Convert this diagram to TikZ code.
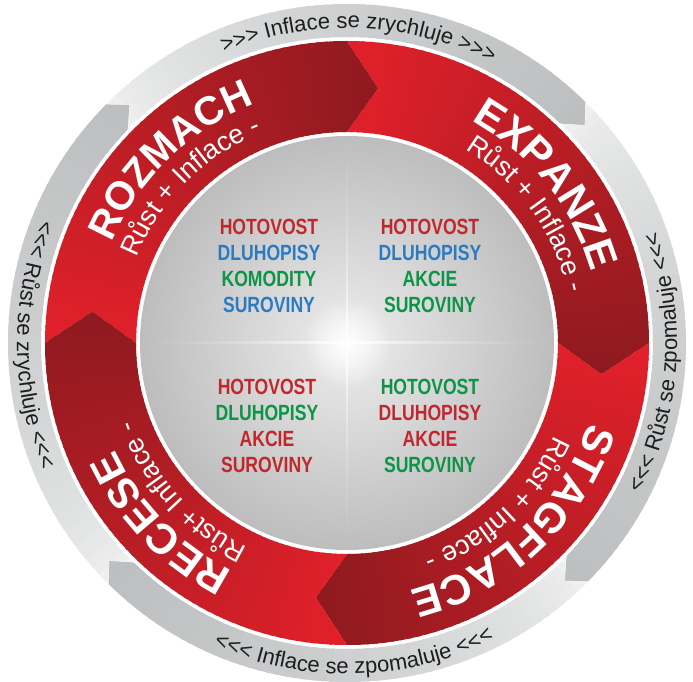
\documentclass[tikz,border=0pt]{standalone}
\usepackage{fontspec}
\setmainfont{Liberation Sans}
\newfontfamily\condfont[FakeStretch=0.8]{Liberation Sans}
\usetikzlibrary{decorations.text,fadings}
\definecolor{rbright}{HTML}{E2202A}
\definecolor{rdark}{HTML}{8D1A1F}
\definecolor{glight}{HTML}{F4F4F4}
\definecolor{gdark}{HTML}{BCBEBF}
\definecolor{qred}{HTML}{C1272D}
\definecolor{qblue}{HTML}{2B7BC2}
\definecolor{qgreen}{HTML}{0C9447}
\definecolor{diskedge}{HTML}{BDBDBD}
\definecolor{diskmid}{HTML}{EDEDED}
\definecolor{lbltext}{HTML}{1E1E1E}
\tikzfading[name=glowfade, inner color=transparent!0, outer color=transparent!100]
\newcommand\cycttl{\bfseries\fontsize{42}{42}\selectfont}
\newcommand\cycttlr{\bfseries\fontsize{40}{40}\selectfont}
\newcommand\cycsub{\fontsize{27}{27}\selectfont}
\newcommand\cyclbl{\fontsize{22}{22}\selectfont}
\begin{document}
\begin{tikzpicture}[
  quad/.style={align=center, font=\condfont\bfseries\fontsize{22}{26}\selectfont, inner sep=0pt},
]
\fill[white] (-347pt,-339pt) rectangle (346pt,343pt);
\useasboundingbox (-347pt,-339pt) rectangle (346pt,343pt);

% grey outer arrows
\foreach \hd in {42.5,-47.5,-137.5,132.5}{
  \pgfmathsetmacro\gtl{\hd+90}
  \pgfmathsetmacro\gtlo{\gtl+2.8}
  \pgfmathsetmacro\gtli{\gtl+3.3}
  \pgfmathsetmacro\ghdo{\hd+2.8}
  \pgfmathsetmacro\ghdi{\hd+3.3}
  \begin{scope}
    \clip (\gtlo:339pt) arc[start angle=\gtlo, end angle=\ghdo, radius=339pt]
      -- (\hd:322.5pt) -- (\ghdi:306pt)
      arc[start angle=\ghdi, end angle=\gtli, radius=306pt] -- (\gtl:322.5pt) -- cycle;
    \foreach \i in {0,...,59}{
      \pgfmathsetmacro\thA{\gtl+3.6-\i*93.8/60}
      \pgfmathsetmacro\thB{\thA-93.8/60-0.6}
      \pgfmathtruncatemacro\pc{100*(\i/59)^0.55}
      \fill[gdark!\pc!glight] (0,0) -- (\thA:345pt) arc[start angle=\thA, end angle=\thB, radius=345pt] -- cycle;
    }
  \end{scope}
}

% red cycle arrows
\foreach \tl in {180,90,0,-90}{
  \pgfmathsetmacro\segB{\tl-90}
  \pgfmathsetmacro\segT{\tl-97}
  \pgfmathsetmacro\segN{\tl-7}
  \begin{scope}
    \clip (\tl:302pt) arc[start angle=\tl, end angle=\segB, radius=302pt]
      -- (\segT:256.5pt) -- (\segB:211pt)
      arc[start angle=\segB, end angle=\tl, radius=211pt] -- (\segN:256.5pt) -- cycle;
    \foreach \i in {0,...,59}{
      \pgfmathsetmacro\thA{\tl+0.5-\i*97.6/60}
      \pgfmathsetmacro\thB{\thA-97.6/60-0.6}
      \pgfmathtruncatemacro\pc{100*\i/59}
      \fill[rdark!\pc!rbright] (0,0) -- (\thA:310pt) arc[start angle=\thA, end angle=\thB, radius=310pt] -- cycle;
    }
  \end{scope}
}

% centre disk
\shade[inner color=diskmid, outer color=diskedge] (0,0) circle (207pt);
\shade[left color=diskedge, right color=diskedge, middle color=white] (-206pt,-1pt) rectangle (206pt,1pt);
\shade[top color=diskedge, bottom color=diskedge, middle color=white] (-1pt,-206pt) rectangle (1pt,206pt);
\fill[white, path fading=glowfade] (0,0) circle (45pt);

% quadrant texts
\node[quad] (qtl) at (-78pt,77.5pt) {\textcolor{qred}{HOTOVOST}\\\textcolor{qblue}{DLUHOPISY}\\\textcolor{qgreen}{KOMODITY}\\\textcolor{qblue}{SUROVINY}};
\node[quad] (qtr) at (83pt,77.5pt) {\textcolor{qred}{HOTOVOST}\\\textcolor{qblue}{DLUHOPISY}\\\textcolor{qgreen}{AKCIE}\\\textcolor{qgreen}{SUROVINY}};
\node[quad] (qbl) at (-80pt,-83pt) {\textcolor{qred}{HOTOVOST}\\\textcolor{qgreen}{DLUHOPISY}\\\textcolor{qred}{AKCIE}\\\textcolor{qred}{SUROVINY}};
\node[quad] (qbr) at (83pt,-83pt) {\textcolor{qgreen}{HOTOVOST}\\\textcolor{qred}{DLUHOPISY}\\\textcolor{qred}{AKCIE}\\\textcolor{qgreen}{SUROVINY}};

% segment titles (clockwise, tops outward)
\path[decorate, decoration={text along path, text align=center, text color=white, text={|\cycttlr|ROZMACH}}]
  (194:256pt) arc[start angle=194, end angle=74, radius=256pt];
\path[decorate, decoration={text along path, text align=center, text color=white, text={|\cycsub|Růst + Inflace -}}]
  (195:227pt) arc[start angle=195, end angle=75, radius=227pt];
\path[decorate, decoration={text along path, text align=center, text color=white, text={|\cycttl|EXPANZE}}]
  (98.5:255pt) arc[start angle=98.5, end angle=-21.5, radius=255pt];
\path[decorate, decoration={text along path, text align=center, text color=white, text={|\cycsub|Růst + Inflace -}}]
  (95.6:227pt) arc[start angle=95.6, end angle=-24.4, radius=227pt];
\path[decorate, decoration={text along path, text align=center, text color=white, text={|\cycttl|STAGFLACE}}]
  (13:255pt) arc[start angle=13, end angle=-107, radius=255pt];
\path[decorate, decoration={text along path, text align=center, text color=white, text={|\cycsub|Růst + Inflace -}}]
  (13:227pt) arc[start angle=13, end angle=-107, radius=227pt];
\path[decorate, decoration={text along path, text align=center, text color=white, text={|\cycttl|RECESE}}]
  (284:255pt) arc[start angle=284, end angle=164, radius=255pt];
\path[decorate, decoration={text along path, text align=center, text color=white, text={|\cycsub|Růst+ Inflace -}}]
  (282:227pt) arc[start angle=282, end angle=162, radius=227pt];

% outer labels
\path[decorate, decoration={text along path, text align=center, text color=lbltext, text={|\cyclbl|>>> Inflace se zrychluje >>>}}]
  (147.8:315pt) arc[start angle=147.8, end angle=27.8, radius=315pt];
\path[decorate, decoration={text along path, text align=center, text color=lbltext, text={|\cyclbl|<<< Růst se zpomaluje <<<}}]
  (-63.7:330pt) arc[start angle=-63.7, end angle=56.3, radius=330pt];
\path[decorate, decoration={text along path, text align=center, text color=lbltext, text={|\cyclbl|<<< Inflace se zpomaluje <<<}}]
  (-148.7:331pt) arc[start angle=-148.7, end angle=-28.7, radius=331pt];
\path[decorate, decoration={text along path, text align=center, text color=lbltext, text={|\cyclbl|<<< Růst se zrychluje <<<}}]
  (120.3:330pt) arc[start angle=120.3, end angle=240.3, radius=330pt];
\end{tikzpicture}
\end{document}
